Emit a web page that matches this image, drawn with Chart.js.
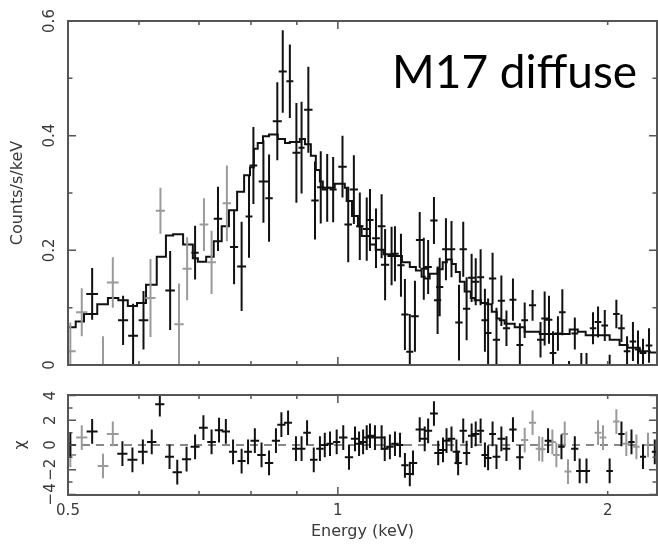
<!DOCTYPE html>
<html>
<head>
<meta charset="utf-8">
<script src="https://cdn.jsdelivr.net/npm/chart.js@4.4.0/dist/chart.umd.min.js"></script>
<style>
  html, body { margin: 0; padding: 0; background: #fff; }
  #wrap { position: relative; width: 658px; height: 544px; }
  #specChart { position: absolute; left: 0; top: 0; }
  #resChart { position: absolute; left: 0; top: 380px; }
</style>
</head>
<body>
<div id="wrap">
  <canvas id="specChart" width="658" height="380"></canvas>
  <canvas id="resChart" width="658" height="164"></canvas>
</div>
<script>
// Energy axis (keV), log scale
const E_MIN = 0.5;
const E_MAX = 2.27;
const energyTicks = [0.5, 0.6, 0.7, 0.8, 0.9, 1, 2];
const energyLabelled = [0.5, 1, 2];
const energyMajor = [1];

const countTicks = [0, 0.2, 0.4, 0.6];
const countMinor = [0.1, 0.3, 0.5];
const chiTicks = [-4, -2, 0, 2, 4];
const chiMinor = [-3, -1, 1, 3];

const SOURCE_NAME = 'M17 diffuse';

// folded model, step histogram (left bin edge in keV, counts/s/keV)
const modelE = [0.500, 0.510, 0.521, 0.539, 0.554, 0.569, 0.583, 0.597, 0.611, 0.628,
  0.643, 0.655, 0.672, 0.689, 0.698, 0.713, 0.727, 0.742, 0.756, 0.772,
  0.786, 0.798, 0.806, 0.814, 0.825, 0.838, 0.857, 0.873, 0.884, 0.907,
  0.919, 0.933, 0.945, 0.955, 0.962, 0.972, 0.992, 1.018, 1.023, 1.037,
  1.053, 1.063, 1.086, 1.102, 1.125, 1.158, 1.179, 1.203, 1.222, 1.240,
  1.250, 1.266, 1.292, 1.309, 1.323, 1.340, 1.354, 1.368, 1.385, 1.407,
  1.421, 1.444, 1.466, 1.485, 1.504, 1.516, 1.535, 1.575, 1.616, 1.680,
  1.746, 1.814, 1.852, 1.890, 1.934, 2.010, 2.062, 2.105, 2.171, 2.228, 2.270];
const modelC = [0.057, 0.066, 0.076, 0.089, 0.106, 0.117, 0.113, 0.103, 0.108, 0.140,
  0.189, 0.226, 0.228, 0.210, 0.186, 0.180, 0.189, 0.216, 0.242, 0.270,
  0.302, 0.331, 0.345, 0.377, 0.387, 0.399, 0.402, 0.394, 0.387, 0.389,
  0.394, 0.385, 0.365, 0.340, 0.320, 0.306, 0.309, 0.316, 0.309, 0.286,
  0.260, 0.242, 0.225, 0.210, 0.201, 0.193, 0.190, 0.179, 0.171, 0.165,
  0.154, 0.151, 0.159, 0.167, 0.179, 0.184, 0.176, 0.162, 0.145, 0.128,
  0.117, 0.113, 0.108, 0.106, 0.093, 0.081, 0.078, 0.072, 0.066, 0.058,
  0.054, 0.054, 0.062, 0.058, 0.052, 0.052, 0.044, 0.035, 0.030, 0.024, 0.022];

// spectrum, first detector (black): bin centre, half width, rate, 1 sigma
const blkE = [0.532, 0.576, 0.591, 0.607, 0.650, 0.693, 0.735, 0.766, 0.781, 0.796,
  0.805, 0.826, 0.838, 0.856, 0.868, 0.884, 0.899, 0.911, 0.927, 0.943,
  0.957, 0.973, 0.988, 1.012, 1.027, 1.042, 1.058, 1.077, 1.086, 1.103,
  1.119, 1.129, 1.148, 1.158, 1.176, 1.188, 1.203, 1.219, 1.234, 1.247,
  1.261, 1.280, 1.292, 1.299, 1.320, 1.339, 1.365, 1.380, 1.392, 1.410,
  1.425, 1.443, 1.459, 1.471, 1.488, 1.503, 1.522, 1.542, 1.568, 1.596,
  1.616, 1.649, 1.683, 1.701, 1.720, 1.738, 1.760, 1.780, 1.811, 1.838,
  1.869, 1.894, 1.926, 1.951, 1.985, 2.010, 2.045, 2.072, 2.102, 2.134,
  2.162, 2.190, 2.224];
const blkW = [0.008, 0.0075, 0.0075, 0.0075, 0.008, 0.0065, 0.008, 0.008, 0.009, 0.007,
  0.008, 0.010, 0.008, 0.010, 0.009, 0.008, 0.009, 0.007, 0.010, 0.009,
  0.009, 0.009, 0.009, 0.011, 0.010, 0.011, 0.010, 0.011, 0.010, 0.011,
  0.011, 0.012, 0.012, 0.011, 0.011, 0.011, 0.011, 0.012, 0.012, 0.011,
  0.012, 0.012, 0.012, 0.012, 0.013, 0.013, 0.013, 0.013, 0.013, 0.013,
  0.013, 0.013, 0.013, 0.013, 0.014, 0.014, 0.014, 0.014, 0.014, 0.014,
  0.014, 0.015, 0.015, 0.015, 0.015, 0.015, 0.015, 0.015, 0.016, 0.016,
  0.016, 0.016, 0.016, 0.017, 0.017, 0.017, 0.017, 0.018, 0.018, 0.018,
  0.018, 0.019, 0.019];
const blkC = [0.124, 0.078, 0.051, 0.078, 0.130, 0.196, 0.255, 0.206, 0.172, 0.259,
  0.348, 0.320, 0.291, 0.425, 0.512, 0.495, 0.370, 0.379, 0.445, 0.287,
  0.310, 0.309, 0.306, 0.346, 0.245, 0.306, 0.242, 0.237, 0.253, 0.221,
  0.242, 0.175, 0.190, 0.194, 0.174, 0.088, 0.023, 0.085, 0.218, 0.168,
  0.171, 0.252, 0.113, 0.136, 0.202, 0.202, 0.074, 0.202, 0.098, 0.152,
  0.145, 0.153, 0.078, 0.056, 0.151, 0.044, 0.112, 0.064, 0.114, 0.035,
  0.078, 0.104, 0.044, 0.081, 0.079, 0.021, 0.055, 0.092, -0.020, 0.055,
  -0.005, -0.005, 0.064, 0.075, 0.069, -0.010, 0.089, 0.064, 0.024, 0.041,
  0.027, 0.021, 0.034];
const blkErr = [0.045, 0.043, 0.056, 0.051, 0.069, 0.047, 0.056, 0.065, 0.078, 0.072,
  0.067, 0.072, 0.076, 0.068, 0.072, 0.064, 0.087, 0.080, 0.075, 0.068,
  0.063, 0.059, 0.057, 0.054, 0.066, 0.060, 0.059, 0.055, 0.054, 0.052,
  0.056, 0.062, 0.051, 0.048, 0.055, 0.062, 0.066, 0.062, 0.049, 0.054,
  0.047, 0.041, 0.059, 0.051, 0.054, 0.049, 0.066, 0.048, 0.055, 0.042,
  0.041, 0.049, 0.055, 0.060, 0.045, 0.056, 0.044, 0.031, 0.037, 0.038,
  0.031, 0.027, 0.031, 0.047, 0.042, 0.038, 0.030, 0.040, 0.027, 0.028,
  0.026, 0.026, 0.028, 0.027, 0.027, 0.028, 0.025, 0.024, 0.026, 0.034,
  0.033, 0.025, 0.030];

// spectrum, second detector (grey)
const gryE = [0.503, 0.518, 0.547, 0.561, 0.618, 0.634, 0.665, 0.679, 0.709, 0.723, 0.752];
const gryW = [0.007, 0.0075, 0.0075, 0.0085, 0.008, 0.0075, 0.008, 0.008, 0.008, 0.008, 0.008];
const gryC = [0.024, 0.092, 0.000, 0.144, 0.117, 0.269, 0.071, 0.168, 0.245, 0.179, 0.282];
const gryErr = [0.050, 0.042, 0.050, 0.044, 0.068, 0.040, 0.071, 0.055, 0.046, 0.055, 0.066];

// residuals (chi), black
const resBlkE = [0.503, 0.532, 0.575, 0.590, 0.606, 0.620, 0.633, 0.649, 0.662, 0.678,
  0.693, 0.708, 0.723, 0.737, 0.750, 0.764, 0.781, 0.794, 0.808, 0.822,
  0.838, 0.853, 0.865, 0.880, 0.898, 0.911, 0.924, 0.940, 0.955, 0.967,
  0.980, 0.997, 1.014, 1.029, 1.045, 1.056, 1.067, 1.077, 1.086, 1.100,
  1.119, 1.128, 1.143, 1.158, 1.173, 1.188, 1.203, 1.213, 1.234, 1.250,
  1.261, 1.280, 1.294, 1.310, 1.322, 1.339, 1.356, 1.362, 1.380, 1.392,
  1.410, 1.425, 1.443, 1.459, 1.471, 1.488, 1.503, 1.522, 1.542, 1.568,
  1.596, 1.716, 1.776, 1.838, 1.861, 1.894, 2.010, 2.072, 2.126, 2.190, 2.257];
const resBlkW = [0.0075, 0.0075, 0.0075, 0.0075, 0.0075, 0.0075, 0.0075, 0.0075, 0.008, 0.008,
  0.008, 0.008, 0.008, 0.008, 0.008, 0.008, 0.008, 0.008, 0.009, 0.009,
  0.009, 0.009, 0.009, 0.009, 0.009, 0.009, 0.009, 0.009, 0.009, 0.009,
  0.009, 0.009, 0.011, 0.011, 0.011, 0.011, 0.011, 0.011, 0.011, 0.011,
  0.011, 0.011, 0.011, 0.011, 0.011, 0.011, 0.013, 0.013, 0.013, 0.013,
  0.013, 0.013, 0.013, 0.013, 0.013, 0.013, 0.013, 0.013, 0.013, 0.013,
  0.013, 0.013, 0.013, 0.013, 0.013, 0.013, 0.015, 0.015, 0.015, 0.015,
  0.015, 0.015, 0.015, 0.017, 0.017, 0.017, 0.017, 0.017, 0.017, 0.017, 0.017];
const resBlkChi = [0.0, 1.1, -0.7, -1.2, -0.55, 0.25, 3.3, -0.95, -2.2, -1.15,
  -0.15, 1.4, 0.25, 1.2, 1.1, -0.55, -1.3, -0.55, 0.35, -0.8,
  -1.45, 0.35, 1.65, 1.8, -0.3, -0.3, 1.0, -1.2, -0.3, 0.0,
  0.1, 0.25, 0.6, -1.0, 0.5, 0.1, 0.25, 0.6, 0.75, 0.6,
  0.6, -0.3, -0.15, 0.1, 0.0, -1.65, -2.35, -1.45, 1.25, 0.5,
  1.15, 2.55, -0.65, -0.4, 0.35, 0.5, -0.55, -1.45, 1.15, -0.65,
  0.75, 0.9, 1.15, -0.8, -1.05, 0.9, -0.95, 0.5, -0.3, 1.25,
  -1.0, 0.35, -0.15, -0.3, -2.1, -2.1, -2.1, 0.9, 0.25, -0.95, -0.55];

// residuals (chi), grey
const resGryE = [0.503, 0.518, 0.547, 0.561, 1.616, 1.649, 1.677, 1.691, 1.735, 1.753,
  1.791, 1.806, 1.951, 1.976, 2.045, 2.098, 2.153, 2.218];
const resGryW = [0.0075, 0.0075, 0.0075, 0.0085, 0.015, 0.015, 0.015, 0.015, 0.015, 0.015,
  0.015, 0.016, 0.017, 0.017, 0.017, 0.018, 0.018, 0.019];
const resGryChi = [-0.8, 0.6, -1.7, 0.9, 0.4, 1.8, -0.3, -0.35, 0.25, -0.8,
  0.9, -2.15, 1.0, 0.6, 1.9, 0.1, -0.15, 0.0];

const INK = '#111';
const GREY = '#9a9a9a';
const AXIS = '#555';
const TEXT = '#3a3a3a';
const axisFont = { family: 'DejaVu Sans', size: 15 };
const titleFont = { family: 'DejaVu Sans', size: 16 };

// crosses: horizontal bar = bin width, vertical bar = error
function drawCrosses(chart, es, ws, vs, errs, color) {
    const { ctx, chartArea: a, scales: { x, y } } = chart;
    ctx.save();
    ctx.beginPath();
    ctx.rect(a.left, a.top, a.right - a.left, a.bottom - a.top);
    ctx.clip();
    ctx.strokeStyle = color;
    ctx.lineWidth = 2;
    ctx.beginPath();
    es.forEach((e, i) => {
        const err = Array.isArray(errs) ? errs[i] : errs;
        const px = x.getPixelForValue(e);
        const py = y.getPixelForValue(vs[i]);
        ctx.moveTo(x.getPixelForValue(e - ws[i]), py);
        ctx.lineTo(x.getPixelForValue(e + ws[i]), py);
        ctx.moveTo(px, y.getPixelForValue(vs[i] + err));
        ctx.lineTo(px, y.getPixelForValue(vs[i] - err));
    });
    ctx.stroke();
    ctx.restore();
}

// box around the plot plus inward tick marks on all four sides
const framePlugin = {
    id: 'frame',
    afterDraw(chart, args, opts) {
        const { ctx, chartArea: a, scales: { x, y } } = chart;
        ctx.save();
        ctx.strokeStyle = AXIS;
        ctx.lineWidth = 1.5;
        ctx.beginPath();
        const xTick = (v, len) => {
            const px = x.getPixelForValue(v);
            ctx.moveTo(px, a.top); ctx.lineTo(px, a.top + len);
            ctx.moveTo(px, a.bottom); ctx.lineTo(px, a.bottom - len);
        };
        const yTick = (v, len) => {
            const py = y.getPixelForValue(v);
            ctx.moveTo(a.left, py); ctx.lineTo(a.left + len, py);
            ctx.moveTo(a.right, py); ctx.lineTo(a.right - len, py);
        };
        energyTicks.forEach(v => xTick(v, energyMajor.includes(v) ? 8 : 4));
        opts.yMajor.forEach(v => yTick(v, 8));
        opts.yMinor.forEach(v => yTick(v, 4.5));
        ctx.stroke();
        ctx.lineWidth = 2;
        ctx.strokeRect(a.left, a.top, a.right - a.left, a.bottom - a.top);
        ctx.restore();
    }
};

const sourceLabel = {
    id: 'sourceLabel',
    afterDraw(chart) {
        const { ctx } = chart;
        ctx.save();
        ctx.font = '50px Lato';
        const w = ctx.measureText(SOURCE_NAME).width;
        ctx.font = (50 * 245 / w).toFixed(1) + 'px Lato';
        ctx.fillStyle = '#000';
        ctx.textBaseline = 'alphabetic';
        ctx.fillText(SOURCE_NAME, 392, 88);
        ctx.restore();
    }
};

const specCrosses = {
    id: 'specCrosses',
    afterDatasetsDraw(chart) {
        drawCrosses(chart, gryE, gryW, gryC, gryErr, GREY);
        drawCrosses(chart, blkE, blkW, blkC, blkErr, INK);
    }
};

const resCrosses = {
    id: 'resCrosses',
    afterDatasetsDraw(chart) {
        drawCrosses(chart, resGryE, resGryW, resGryChi, 1, GREY);
        drawCrosses(chart, resBlkE, resBlkW, resBlkChi, 1, INK);
    }
};

const minus = v => String(v).replace('-', '\u2212');

new Chart(document.getElementById('specChart'), {
    type: 'line',
    data: {
        datasets: [{
            data: modelE.map((e, i) => ({ x: e, y: modelC[i] })),
            stepped: 'after',
            borderColor: INK,
            borderWidth: 2,
            pointRadius: 0,
            fill: false
        }]
    },
    options: {
        responsive: false,
        animation: false,
        layout: { padding: { left: 0, right: 1, top: 21, bottom: 4 } },
        plugins: {
            legend: { display: false },
            tooltip: { enabled: false },
            frame: { yMajor: countTicks, yMinor: countMinor }
        },
        scales: {
            x: { type: 'logarithmic', min: E_MIN, max: E_MAX, display: false },
            y: {
                min: 0, max: 0.6,
                afterBuildTicks: s => { s.ticks = countTicks.map(v => ({ value: v })); },
                afterFit: s => { s.width = 68; },
                grid: { display: false, drawTicks: false },
                border: { display: false },
                ticks: {
                    autoSkip: false, minRotation: 90, maxRotation: 90, crossAlign: 'center', padding: 6,
                    font: axisFont, color: TEXT,
                    callback: v => v === 0 ? '0' : v.toFixed(1)
                },
                title: { display: true, text: 'Counts/s/keV', font: titleFont, color: TEXT, padding: { top: 8 } }
            }
        }
    },
    plugins: [specCrosses, framePlugin, sourceLabel]
});

new Chart(document.getElementById('resChart'), {
    type: 'line',
    data: {
        datasets: [{
            data: [{ x: E_MIN, y: 0 }, { x: E_MAX, y: 0 }],
            borderColor: '#888',
            borderWidth: 2,
            borderDash: [8, 6],
            pointRadius: 0,
            fill: false
        }]
    },
    options: {
        responsive: false,
        animation: false,
        layout: { padding: { left: 0, right: 1, top: 11, bottom: 0 } },
        plugins: {
            legend: { display: false },
            tooltip: { enabled: false },
            frame: { yMajor: chiTicks, yMinor: chiMinor }
        },
        scales: {
            x: {
                type: 'logarithmic', min: E_MIN, max: E_MAX,
                afterBuildTicks: s => { s.ticks = energyTicks.map(v => ({ value: v })); },
                afterFit: s => { s.height = 49; },
                grid: { display: false, drawTicks: false },
                border: { display: false },
                ticks: {
                    autoSkip: false, minRotation: 0, maxRotation: 0, padding: 7,
                    font: axisFont, color: TEXT,
                    callback: v => energyLabelled.includes(v) ? String(v) : ''
                },
                title: { display: true, text: 'Energy (keV)', font: titleFont, color: TEXT, padding: { bottom: 3 } }
            },
            y: {
                min: -4.05, max: 4.05,
                afterBuildTicks: s => { s.ticks = chiTicks.map(v => ({ value: v })); },
                afterFit: s => { s.width = 68; },
                grid: { display: false, drawTicks: false },
                border: { display: false },
                ticks: {
                    autoSkip: false, minRotation: 90, maxRotation: 90, crossAlign: 'center', padding: 6,
                    font: axisFont, color: TEXT,
                    callback: v => minus(v)
                },
                title: { display: true, text: '\u03c7', font: titleFont, color: TEXT, padding: { top: 11 } }
            }
        }
    },
    plugins: [resCrosses, framePlugin]
});
</script>
</body>
</html>
